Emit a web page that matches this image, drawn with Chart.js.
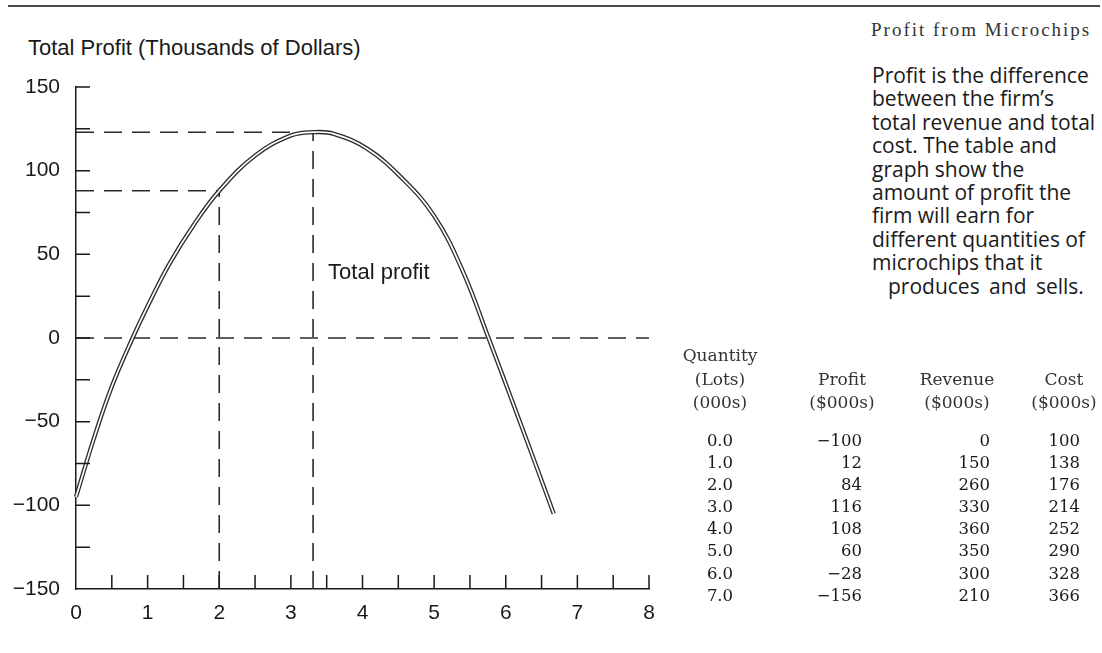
<!DOCTYPE html>
<html>
<head>
<meta charset="utf-8">
<script src="https://cdn.jsdelivr.net/npm/chart.js@4.4.1/dist/chart.umd.min.js"></script>
<style>
  html, body { margin:0; padding:0; background:#fff; }
  body { width:1102px; height:653px; position:relative; overflow:hidden; }
  #c { position:absolute; left:0; top:0; }
  .rule { position:absolute; left:8px; top:5px; width:1092px; height:2px; background:#4a4a4a; }
  .ytitle { position:absolute; left:28px; top:35px; font:22px "Liberation Sans", Arial, sans-serif; color:#1a1a1a; white-space:nowrap; }
  .ftitle { position:absolute; left:871px; top:19px; font:19px "Liberation Serif", serif; letter-spacing:2px; color:#333; white-space:nowrap; }
  .para { position:absolute; left:872px; top:64px; font:21px "Open Sans", sans-serif; line-height:23.4px; color:#1a1a1a; white-space:nowrap; }
  .col { position:absolute; font:16.5px "DejaVu Serif", serif; color:#1a1a1a; white-space:nowrap; }
  .hdr { position:absolute; font:17px "DejaVu Serif", serif; color:#333; white-space:nowrap; text-align:center; width:140px; line-height:23.5px; }
</style>
</head>
<body>
<div class="rule"></div>
<div class="ytitle" id="ytitle"></div>
<div class="ftitle" id="ftitle"></div>
<div class="para" id="para"></div>
<canvas id="c" width="1102" height="653"></canvas>
<div id="table"></div>
<script>
// ---- chart data ----
const curveX = [0, 0.25, 0.5, 0.79, 1.0, 1.3, 1.65, 2.0, 2.5, 3.0, 3.31, 3.6, 4.07, 4.54, 5.0, 5.4, 5.76, 6.24, 6.67];
const curveY = [-95, -60, -29, 0, 19, 44, 68, 88, 109, 121, 123, 122, 113, 96, 73, 40, 0, -55, -105];
const peakX = 3.31, peakY = 123;
const guideX = 2, guideY = 88;
const yMarkValues = [-125, -100, -75, -50, -25, 0, 25, 50, 75, 100, 125, 150];
const xMarkValues = [0.5, 1, 1.5, 2, 2.5, 3, 3.5, 4, 4.5, 5, 5.5, 6, 6.5, 7, 7.5, 8];
const curveLabel = 'Total profit';
const curveLabelX = 3.52, curveLabelY = 39;
const yAxisTitle = 'Total Profit (Thousands of Dollars)';

// ---- table data ----
const quantities = [0, 1, 2, 3, 4, 5, 6, 7];
const profits = [-100, 12, 84, 116, 108, 60, -28, -156];
const revenues = [0, 150, 260, 330, 360, 350, 300, 210];
const costs = [100, 138, 176, 214, 252, 290, 328, 366];

const figTitle = 'Profit from Microchips';
const paraLines = ['Profit is the difference', 'between the firm\u2019s', 'total revenue and total', 'cost. The table and', 'graph show the', 'amount of profit the', 'firm will earn for', 'different quantities of', 'microchips that it', 'produces and sells.'];

const fmt = v => v < 0 ? '\u2212' + Math.abs(v) : String(v);

document.getElementById('ytitle').textContent = yAxisTitle;
document.getElementById('ftitle').textContent = figTitle;
document.getElementById('para').innerHTML = paraLines.map((l, i) =>
  '<div' + (i === paraLines.length - 1 ? ' style="padding-left:16px;word-spacing:4px"' : '') + '>' + l + '</div>').join('');

// table
const tbl = document.getElementById('table');
function addHdr(lines, center, top) {
  const d = document.createElement('div');
  d.className = 'hdr';
  d.style.left = (center - 70) + 'px';
  d.style.top = top + 'px';
  d.innerHTML = lines.join('<br>');
  tbl.appendChild(d);
}
function addCol(values, opts) {
  const d = document.createElement('div');
  d.className = 'col';
  d.style.top = '430px';
  d.style.lineHeight = '22.1px';
  if (opts.right !== undefined) { d.style.right = (1102 - opts.right) + 'px'; d.style.textAlign = 'right'; }
  else { d.style.left = (opts.center - 40) + 'px'; d.style.width = '80px'; d.style.textAlign = 'center'; }
  d.innerHTML = values.join('<br>');
  tbl.appendChild(d);
}
addHdr(['Quantity', '(Lots)', '(000s)'], 720, 344);
addHdr(['Profit', '($000s)'], 842, 367.5);
addHdr(['Revenue', '($000s)'], 957, 367.5);
addHdr(['Cost', '($000s)'], 1064, 367.5);
addCol(quantities.map(q => q.toFixed(1)), { center: 720 });
addCol(profits.map(fmt), { right: 862 });
addCol(revenues.map(fmt), { right: 990 });
addCol(costs.map(fmt), { right: 1080 });

// ---- chart ----
const ink = '#1a1a1a';
const curvePts = curveX.map((x, i) => ({ x, y: curveY[i] }));
const dashStyle = { borderColor: '#2a2a2a', borderWidth: 1.6, borderDash: [18, 10], pointRadius: 0, clip: false, order: 3, fill: false, tension: 0 };

const innerTicks = {
  id: 'innerTicks',
  afterDraw(chart) {
    const { ctx, scales: { x, y } } = chart;
    ctx.save();
    ctx.strokeStyle = ink;
    ctx.lineWidth = 1.5;
    ctx.beginPath();
    const x0 = x.getPixelForValue(0), y0 = y.getPixelForValue(-150);
    yMarkValues.forEach(v => { const py = y.getPixelForValue(v); ctx.moveTo(x0, py); ctx.lineTo(x0 + 14, py); });
    xMarkValues.forEach(v => { const px = x.getPixelForValue(v); ctx.moveTo(px, y0); ctx.lineTo(px, y0 - 14); });
    ctx.stroke();
    ctx.fillStyle = ink;
    ctx.font = '22px "Liberation Sans", Arial, sans-serif';
    ctx.textBaseline = 'middle';
    ctx.textAlign = 'left';
    ctx.fillText(curveLabel, x.getPixelForValue(curveLabelX), y.getPixelForValue(curveLabelY));
    ctx.restore();
  }
};

new Chart(document.getElementById('c'), {
  type: 'line',
  data: {
    datasets: [
      { data: curvePts, borderColor: '#ffffff', borderWidth: 1.7, pointRadius: 0, tension: 0.4, clip: false, order: 1 },
      { data: curvePts, borderColor: '#2b2b2b', borderWidth: 4.3, pointRadius: 0, tension: 0.4, clip: false, order: 2, borderCapStyle: 'butt' },
      Object.assign({ data: [{ x: 0, y: 0 }, { x: 8, y: 0 }] }, dashStyle),
      Object.assign({ data: [{ x: guideX, y: -150 }, { x: guideX, y: guideY }] }, dashStyle),
      Object.assign({ data: [{ x: 0, y: guideY }, { x: guideX, y: guideY }] }, dashStyle),
      Object.assign({ data: [{ x: peakX, y: -150 }, { x: peakX, y: peakY }] }, dashStyle),
      Object.assign({ data: [{ x: 0, y: peakY }, { x: peakX, y: peakY }] }, dashStyle)
    ]
  },
  options: {
    responsive: false,
    animation: false,
    events: [],
    layout: { padding: { left: 0, top: 87, right: 453, bottom: 0 } },
    plugins: { legend: { display: false }, tooltip: { enabled: false } },
    scales: {
      x: {
        type: 'linear', min: 0, max: 8,
        afterFit: s => { s.height = 64; },
        ticks: { stepSize: 1, color: ink, padding: 12, font: { family: '"Liberation Sans", Arial, sans-serif', size: 21 } },
        grid: { display: false, drawTicks: false },
        border: { display: true, color: ink, width: 1.5 }
      },
      y: {
        type: 'linear', min: -150, max: 150,
        afterFit: s => { s.width = 76; },
        ticks: { stepSize: 50, color: ink, padding: 16, callback: v => fmt(v), font: { family: '"Liberation Sans", Arial, sans-serif', size: 21 } },
        grid: { display: false, drawTicks: false },
        border: { display: true, color: ink, width: 1.5 }
      }
    }
  },
  plugins: [innerTicks]
});
</script>
</body>
</html>
